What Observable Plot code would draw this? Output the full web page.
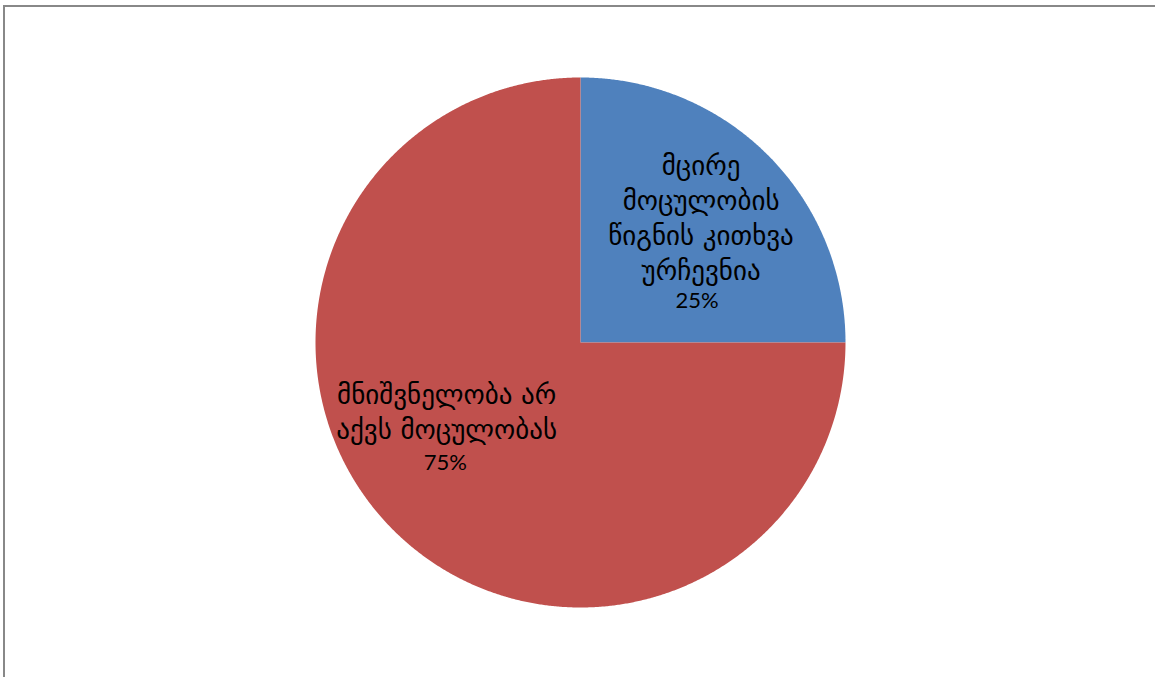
<!DOCTYPE html>
<html>
<head>
<meta charset="utf-8">
<script src="https://cdn.jsdelivr.net/npm/d3@7"></script>
<script src="https://cdn.jsdelivr.net/npm/@observablehq/plot@0.6"></script>
<style>
  html, body { margin: 0; padding: 0; background: #fff; overflow: hidden; }
  #wrap { position: relative; width: 1155px; height: 677px; }
  #border { position: absolute; left: 3px; top: 5px; width: 1160px; height: 700px;
            border-left: 2px solid #888; border-top: 2px solid #888; box-sizing: border-box; }
  #chart { position: absolute; left: 0; top: 0; }
</style>
</head>
<body>
<div id="wrap"><div id="border"></div><div id="chart"></div></div>
<script>
// Data
const categories = ["მცირე მოცულობის წიგნის კითხვა ურჩევნია", "მნიშვნელობა არ აქვს მოცულობას"];
const values = [25, 75];
const colors = ["#4F81BD", "#C0504D"];
const labelLines = [["მცირე", "მოცულობის", "წიგნის კითხვა", "ურჩევნია"], ["მნიშვნელობა არ", "აქვს მოცულობას"]];

const total = d3.sum(values);
const arcs = d3.pie().sort(null)(values);

// build slice polygons in unit coordinates (angles clockwise from 12 o'clock)
const points = [];
arcs.forEach((a, i) => {
  const n = Math.max(8, Math.ceil((a.endAngle - a.startAngle) / 0.005));
  points.push({key: i, color: colors[i], x: 0, y: 0});
  for (let k = 0; k <= n; k++) {
    const t = a.startAngle + (a.endAngle - a.startAngle) * k / n;
    points.push({key: i, color: colors[i], x: Math.sin(t), y: Math.cos(t)});
  }
  points.push({key: i, color: colors[i], x: 0, y: 0});
});

// label anchors (data units relative to the pie radius)
const namePos = [[0.455, 0.478], [-0.505, -0.257]];
const pctPos = [[0.44, 0.155], [-0.51, -0.453]];
const names = categories.map((c, i) => ({text: labelLines[i].join("\n"), x: namePos[i][0], y: namePos[i][1]}));
const pcts = categories.map((c, i) => ({text: Math.round(values[i] / total * 100) + "%", x: pctPos[i][0], y: pctPos[i][1]}));

const chart = Plot.plot({
  width: 1155,
  height: 677,
  marginLeft: 315,
  marginRight: 310,
  marginTop: 77,
  marginBottom: 70,
  x: {domain: [-1, 1], axis: null},
  y: {domain: [-1, 1], axis: null},
  color: {type: "identity"},
  style: {background: "transparent"},
  marks: [
    Plot.line(points, {x: "x", y: "y", z: "key", fill: "color", stroke: "none"}),
    Plot.text(names, {
      x: "x", y: "y", text: "text",
      fontSize: 27, lineHeight: 35 / 27, fill: "#000",
      fontFamily: "'DejaVu Sans', sans-serif",
      textAnchor: "middle"
    }),
    Plot.text(pcts, {
      x: "x", y: "y", text: "text",
      fontSize: 22, fill: "#000",
      fontFamily: "Lato, 'DejaVu Sans', sans-serif",
      textAnchor: "middle"
    })
  ]
});
document.getElementById("chart").appendChild(chart);
</script>
</body>
</html>
